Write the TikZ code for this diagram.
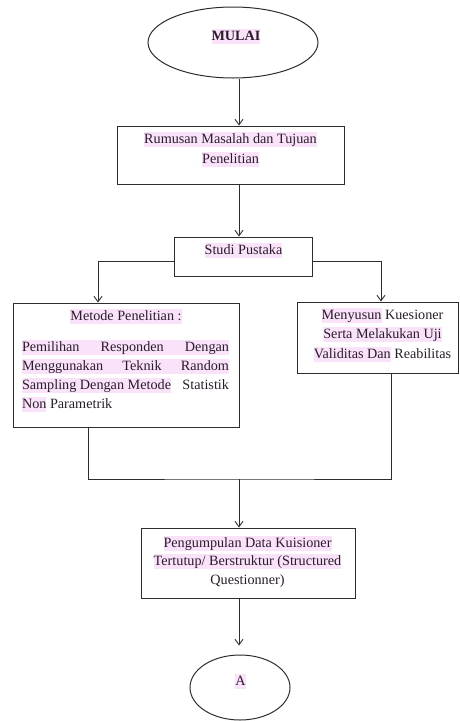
\documentclass[tikz,border=0pt]{standalone}
\usepackage{fontspec}
\setmainfont{Liberation Serif}
\usetikzlibrary{arrows.meta,shapes.geometric,calc}
\definecolor{hlpink}{RGB}{251,226,251}
\definecolor{ink}{RGB}{40,30,40}
\definecolor{edge}{RGB}{45,45,45}
\newcommand\hs{\rule[-3.5pt]{0pt}{15pt}}
\newcommand\hlw[1]{{\setlength{\fboxsep}{0pt}\colorbox{hlpink}{\hs#1}}}
\begin{document}
\begin{tikzpicture}[x=1pt,y=-1pt,
  boxstyle/.style={draw=edge,line width=1pt,rectangle,inner sep=0pt},
  ovalstyle/.style={draw=edge,line width=1pt,ellipse,inner sep=0pt},
  txt/.style={inner sep=0pt,text=ink,font=\fontsize{14.2}{19}\selectfont},
  conn/.style={draw=edge,line width=0.9pt},
  arr/.style={conn,-{Straight Barb[length=5.5pt,width=8pt]}}]
\useasboundingbox (0,0) rectangle (460,721);
% shapes
\node[ovalstyle,minimum width=170pt,minimum height=71pt] (mulai) at (233,42.5) {};
\node[boxstyle,minimum width=227pt,minimum height=58pt] (rum) at (230.5,155) {};
\node[boxstyle,minimum width=138pt,minimum height=39pt] (studi) at (243,256.5) {};
\node[boxstyle,minimum width=226pt,minimum height=124pt] (metode) at (126,365) {};
\node[boxstyle,minimum width=161pt,minimum height=71pt] (menyusun) at (377.5,337.5) {};
\node[boxstyle,minimum width=214pt,minimum height=70pt] (peng) at (248,563) {};
\node[ovalstyle,minimum width=100pt,minimum height=65pt] (a) at (240,687.5) {};
% texts
\node[txt,anchor=base,font=\fontsize{14.2}{19}\selectfont\bfseries] (mulaitxt) at (236,40) {\hlw{MULAI}};
\node[txt,anchor=north,align=center,font=\fontsize{14.2}{20}\selectfont] (rumtxt) at (230.5,132)
  {\hlw{Rumusan Masalah dan Tujuan}\\\hlw{Penelitian}};
\node[txt,anchor=base] (studitxt) at (243.5,254.5) {\hlw{Studi Pustaka}};
\node[txt,anchor=base] (metodetitle) at (126,320) {\hlw{Metode Penelitian :}};
\node[txt,anchor=north,align=left] (metodepar) at (125.5,339.5)
  {\hlw{\makebox[207pt][s]{Pemilihan Responden Dengan}}\\
   \hlw{\makebox[207pt][s]{Menggunakan Teknik Random}}\\
   \makebox[207pt][s]{\hlw{Sampling Dengan Metode} Statistik\hs}\\
   \makebox[207pt][l]{\hlw{Non} Parametrik\hs}};
\node[txt,anchor=north,align=center,font=\fontsize{14.2}{19.5}\selectfont] (menytxt) at (382.5,307.5)
  {\hlw{Menyusun} Kuesioner\hs\\\hlw{Serta Melakukan Uji}\\\hlw{Validitas Dan} Reabilitas\hs};
\node[txt,anchor=north,align=center,font=\fontsize{14.2}{18.5}\selectfont] (pengtxt) at (247.5,535.5)
  {\hlw{Pengumpulan Data Kuisioner}\\\hlw{Tertutup/ Berstruktur (Structured}\\Questionner)\hs};
\node[txt,anchor=base] (atxt) at (240.5,685) {\hlw{A}};
% guide coordinates
\coordinate (spine) at (239,0);
\coordinate (lcol) at (98,0);
\coordinate (rcol) at (381,0);
\coordinate (bl) at (88,0);
\coordinate (br) at (391,0);
\coordinate (j) at (239,479);
% connectors
\draw[arr] (mulai.south -| spine) -- (rum.north -| spine);
\draw[arr] (rum.south -| spine) -- (studi.north -| spine);
\draw[arr] ([yshift=-4.5pt]studi.west) -| (lcol |- metode.north);
\draw[arr] ([yshift=-4.5pt]studi.east) -| (rcol |- menyusun.north);
\draw[conn] (bl |- metode.south) |- (j) -| (br |- menyusun.south);
\draw[arr] (j) -- (peng.north -| j);
\draw[arr,shorten >=9pt] (peng.south -| spine) -- (a.north -| spine);
\end{tikzpicture}
\end{document}
